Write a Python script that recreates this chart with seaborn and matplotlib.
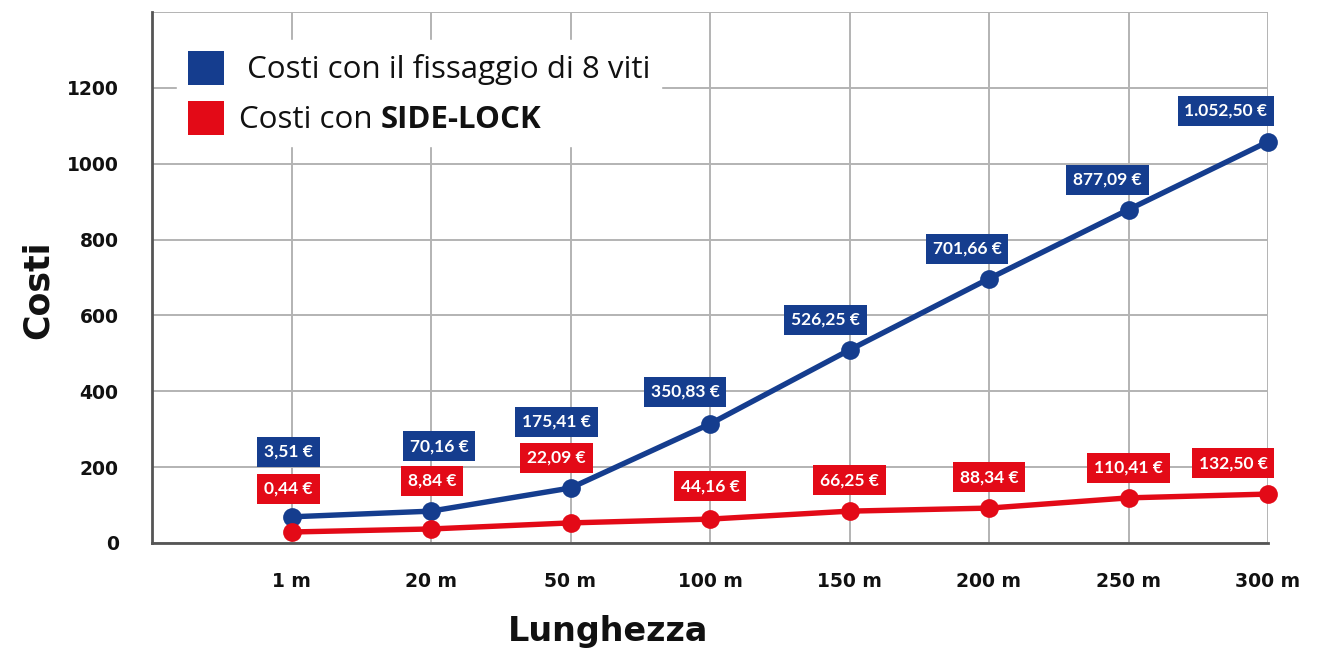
import matplotlib
matplotlib.use("Agg")
import matplotlib.pyplot as plt
import seaborn as sns
import pandas as pd
from matplotlib.patches import Patch

# ---- data ----
categories = ["1 m", "20 m", "50 m", "100 m", "150 m", "200 m", "250 m", "300 m"]
viti_values = [69, 84, 145, 314, 509, 697, 879, 1058]
sidelock_values = [29, 37, 53, 63, 84, 92, 119, 129]
viti_labels = ["3,51 €", "70,16 €", "175,41 €", "350,83 €", "526,25 €", "701,66 €", "877,09 €", "1.052,50 €"]
sidelock_labels = ["0,44 €", "8,84 €", "22,09 €", "44,16 €", "66,25 €", "88,34 €", "110,41 €", "132,50 €"]
series_names = [" Costi con il fissaggio di 8 viti", "Costi con "]
y_ticks = [0, 200, 400, 600, 800, 1000, 1200]

# ---- layout (label offsets in pixels) ----
viti_offsets = [(-3, 65), (8, 65), (-14, 66), (-25, 32), (-24, 30), (-22, 30), (-21, 30), (-42, 31)]
sl_offsets = [(-3, 43), (1, 48), (-14, 65), (0, 33), (0, 31), (0, 31), (0, 30), (-35, 31)]

BLUE = "#153d8e"
RED = "#e30a17"

sns.set_theme(style="white")
plt.rcParams["font.family"] = ["DejaVu Sans"]

df = pd.DataFrame({
    "pos": list(range(len(categories))) * 2,
    "Costi": viti_values + sidelock_values,
    "serie": [series_names[0]] * len(categories) + [series_names[1]] * len(categories),
})

fig = plt.figure(figsize=(13.22, 6.48), dpi=100)
ax = fig.add_axes([152 / 1322, 1 - 543 / 648, (1268 - 152) / 1322, (543 - 12) / 648])

sns.lineplot(data=df, x="pos", y="Costi", hue="serie", palette=[BLUE, RED],
             hue_order=series_names, marker="o", markersize=13.5, linewidth=3.9,
             markeredgewidth=0, ax=ax, legend=False, zorder=3)
for ln in ax.get_lines():
    ln.set_clip_on(False)

ax.set_xlim(-1, 7)
ax.set_ylim(0, 1400)
ax.set_xticks(range(len(categories)))
ax.set_xticklabels(categories)
ax.set_yticks(y_ticks + [1400])
ax.set_yticklabels([str(t) for t in y_ticks] + [""])
ax.grid(True, color="#b3b3b3", linewidth=1.4)
ax.set_axisbelow(True)
for s in ["top", "right"]:
    ax.spines[s].set_visible(False)
for s in ["left", "bottom"]:
    ax.spines[s].set_color("#555555")
    ax.spines[s].set_linewidth(2)
    ax.spines[s].set_zorder(2.5)
ax.tick_params(axis="both", length=0, labelsize=13.5)
ax.tick_params(axis="x", pad=21)
ax.tick_params(axis="y", pad=24)
for lab in ax.get_xticklabels() + ax.get_yticklabels():
    lab.set_fontweight("bold")
    lab.set_color("#111111")

ax.set_xlabel("Lunghezza", fontsize=24, fontweight="bold", color="#111111")
ax.set_ylabel("Costi", fontsize=25, fontweight="bold", color="#111111")
ax.xaxis.set_label_coords((608 - 152) / 1116, (543 - 632) / 531)
ax.yaxis.set_label_coords((38 - 152) / 1116, (543 - 290) / 531)
ax.xaxis.label.set_va("center")
ax.yaxis.label.set_va("center")

# data labels
for i in range(len(categories)):
    for vals, labs, offs, col in [(viti_values, viti_labels, viti_offsets, BLUE),
                                  (sidelock_values, sidelock_labels, sl_offsets, RED)]:
        ax.annotate(labs[i], xy=(i, vals[i]), xytext=offs[i], textcoords="offset pixels",
                    ha="center", va="center", fontsize=12.5, fontweight="bold",
                    family=["Lato", "DejaVu Sans"], color="white", zorder=5,
                    bbox=dict(boxstyle="square,pad=0.4", fc=col, ec="none"),
                    annotation_clip=False)

# legend
handles = [Patch(facecolor=BLUE, edgecolor="none"), Patch(facecolor=RED, edgecolor="none")]
leg = ax.legend(handles, series_names, loc="upper left",
                bbox_to_anchor=((161 - 152) / 1116, (543 - 24) / 531),
                frameon=True, fancybox=False, framealpha=1, edgecolor="white",
                facecolor="white", borderpad=0.35, handlelength=1.15, handleheight=1.3,
                handletextpad=0.5, labelspacing=0.5,
                prop={"family": "Open Sans", "size": 22.5})
leg.set_zorder(4)
fig.canvas.draw()
t2 = leg.get_texts()[1]
ax.annotate("SIDE-LOCK", xy=(1, 0), xycoords=t2, xytext=(0, 0), textcoords="offset pixels",
            ha="left", va="bottom", fontsize=22.5, fontweight="bold", family="Open Sans",
            color="#111111", zorder=6)
for t in leg.get_texts():
    t.set_color("#111111")

fig.savefig("out.png", dpi=100)
